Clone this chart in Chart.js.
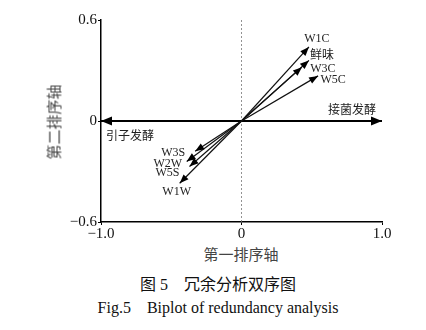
<!DOCTYPE html>
<html>
<head>
<meta charset="utf-8">
<script src="https://cdn.jsdelivr.net/npm/chart.js@4.4.0/dist/chart.umd.min.js"></script>
<style>
  body { margin: 0; background: #fff; }
  #wrap { position: relative; width: 426px; height: 330px; overflow: hidden; }
  #c { position: absolute; left: 0; top: 0; }
  .t { position: absolute; white-space: nowrap; transform: translate(-50%, -50%); }
  .cjk { font-family: "Noto Sans CJK SC", sans-serif; }
  .serif { font-family: "Liberation Serif", "Noto Sans CJK SC", serif; }
</style>
</head>
<body>
<div id="wrap">
  <canvas id="c" width="426" height="240"></canvas>
  <div class="t cjk" style="left:241px;top:253px;font-size:15px;color:#444">第一排序轴</div>
  <div class="t cjk" style="left:53px;top:122px;font-size:15px;color:#444;transform:translate(-50%,-50%) rotate(-90deg)">第二排序轴</div>
  <div class="t serif" style="left:218px;top:283px;font-size:16px;color:#111">图 5&nbsp;&nbsp;&nbsp;&nbsp;冗余分析双序图</div>
  <div class="t serif" style="left:218px;top:308px;font-size:16px;color:#111">Fig.5&nbsp;&nbsp;&nbsp;&nbsp;Biplot of redundancy analysis</div>
</div>
<script>
// response variables (arrows from the origin)
const factorNames = ['W1C', '鲜味', 'W3C', 'W5C', 'W3S', 'W2W', 'W5S', 'W1W'];
const factorX = [0.48, 0.48, 0.43, 0.545, -0.33, -0.39, -0.37, -0.44];
const factorY = [0.44, 0.36, 0.32, 0.268, -0.18, -0.24, -0.27, -0.37];

// explanatory groups (the two-headed arrow along the first axis)
const groupNames = ['接菌发酵', '引子发酵'];
const groupX = [1, -1];
const groupY = [0, 0];

const xTicks = [-1, 0, 1];
const yTicks = [-0.6, 0, 0.6];

// label placement, pixels away from the arrow tip
const factorOffsets = [[8, -8], [13, -5], [21, 2], [15, 4], [-22, 2], [-19, 2], [-22, 6], [-3, 9]];
const groupOffsets = [[-30, -12], [29, 14]];

const fmt = v => v === 0 ? '0' : (v < 0 ? '\u2212' : '') + Math.abs(v).toFixed(1);

const datasets = factorNames.map((n, i) => ({
  label: n,
  data: [{x: 0, y: 0}, {x: factorX[i], y: factorY[i]}],
  showLine: true,
  borderColor: '#111',
  borderWidth: 1.2,
  pointRadius: 0,
  kind: 'arrow'
}));
datasets.push({
  label: 'groups',
  data: [{x: groupX[1], y: groupY[1]}, {x: groupX[0], y: groupY[0]}],
  showLine: true,
  borderColor: '#000',
  borderWidth: 1.8,
  pointRadius: 0,
  kind: 'double'
});
datasets.push({
  label: 'zero',
  data: [{x: 0, y: yTicks[0]}, {x: 0, y: yTicks[2]}],
  showLine: true,
  borderColor: '#777',
  borderWidth: 0.8,
  borderDash: [2, 2],
  pointRadius: 0
});

function head(ctx, fx, fy, tx, ty, len, half) {
  const a = Math.atan2(ty - fy, tx - fx);
  ctx.beginPath();
  ctx.moveTo(tx, ty);
  ctx.lineTo(tx - len * Math.cos(a) + half * Math.sin(a), ty - len * Math.sin(a) - half * Math.cos(a));
  ctx.lineTo(tx - len * Math.cos(a) - half * Math.sin(a), ty - len * Math.sin(a) + half * Math.cos(a));
  ctx.closePath();
  ctx.fill();
}

const arrowPlugin = {
  id: 'arrows',
  afterDatasetsDraw(chart) {
    const ctx = chart.ctx;
    const xs = chart.scales.x, ys = chart.scales.y;
    ctx.save();
    ctx.fillStyle = '#000';
    chart.data.datasets.forEach((ds, i) => {
      const pts = chart.getDatasetMeta(i).data;
      if (ds.kind === 'arrow') {
        head(ctx, pts[0].x, pts[0].y, pts[1].x, pts[1].y, 9, 3.5);
      } else if (ds.kind === 'double') {
        head(ctx, pts[0].x, pts[0].y, pts[1].x, pts[1].y, 11, 4.5);
        head(ctx, pts[1].x, pts[1].y, pts[0].x, pts[0].y, 11, 4.5);
      }
    });
    ctx.textAlign = 'center';
    ctx.textBaseline = 'middle';
    ctx.fillStyle = '#222';
    ctx.font = '12px "Liberation Serif", "Noto Sans CJK SC", serif';
    factorNames.forEach((n, i) => {
      ctx.fillText(n, xs.getPixelForValue(factorX[i]) + factorOffsets[i][0],
                      ys.getPixelForValue(factorY[i]) + factorOffsets[i][1]);
    });
    ctx.font = '12px "Noto Sans CJK SC", sans-serif';
    groupNames.forEach((n, i) => {
      ctx.fillText(n, xs.getPixelForValue(groupX[i]) + groupOffsets[i][0],
                      ys.getPixelForValue(groupY[i]) + groupOffsets[i][1]);
    });
    ctx.restore();
  }
};

const tickFont = {family: '"Liberation Serif", serif', size: 15};

new Chart(document.getElementById('c'), {
  type: 'scatter',
  data: {datasets: datasets},
  options: {
    responsive: false,
    animation: false,
    devicePixelRatio: 1,
    layout: {padding: {top: 20, right: 44, bottom: 0, left: 0}},
    plugins: {legend: {display: false}, tooltip: {enabled: false}},
    scales: {
      x: {
        type: 'linear',
        min: -1, max: 1,
        afterBuildTicks: s => { s.ticks = xTicks.map(v => ({value: v})); },
        afterFit: s => { s.height = 18; },
        ticks: {callback: v => fmt(v), color: '#111', font: tickFont, padding: 0, maxRotation: 0},
        grid: {drawOnChartArea: false, color: 'transparent', tickColor: '#000', tickLength: 3},
        border: {display: true, color: '#000', width: 1.5}
      },
      y: {
        type: 'linear',
        min: -0.6, max: 0.6,
        afterBuildTicks: s => { s.ticks = yTicks.map(v => ({value: v})); },
        afterFit: s => { s.width = 101; },
        ticks: {callback: v => fmt(v), color: '#111', font: tickFont, padding: 1},
        grid: {drawOnChartArea: false, color: 'transparent', tickColor: '#000', tickLength: 3},
        border: {display: true, color: '#000', width: 1.5}
      }
    }
  },
  plugins: [arrowPlugin]
});
</script>
</body>
</html>
